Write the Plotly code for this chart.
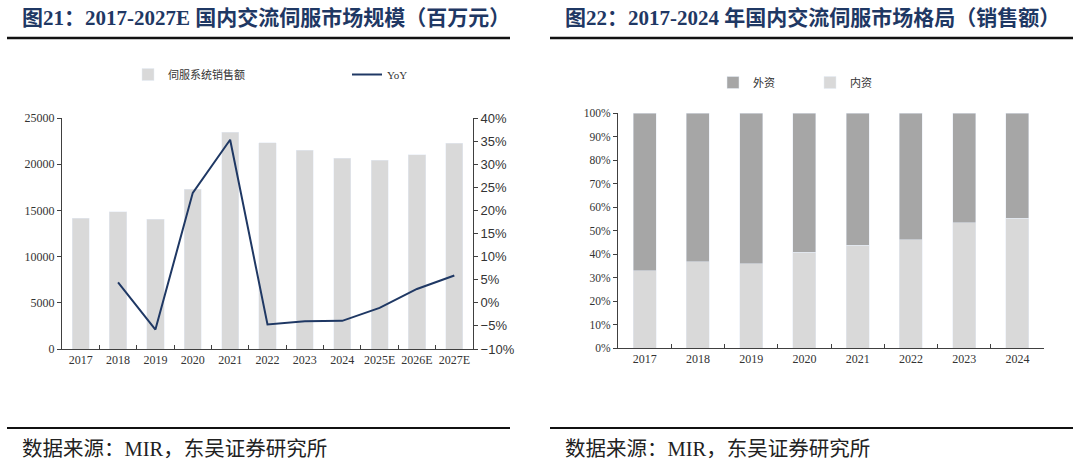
import plotly.graph_objects as go

# ---------------- data ----------------
years_left = ["2017", "2018", "2019", "2020", "2021", "2022", "2023", "2024", "2025E", "2026E", "2027E"]
sales = [14150, 14860, 14040, 17280, 23450, 22330, 21500, 20640, 20450, 21030, 22260]
yoy_years = ["2018", "2019", "2020", "2021", "2022", "2023", "2024", "2025E", "2026E", "2027E"]
yoy = [4.4, -5.8, 23.8, 35.3, -4.7, -4.0, -3.9, -1.1, 3.0, 5.9]

years_right = ["2017", "2018", "2019", "2020", "2021", "2022", "2023", "2024"]
domestic = [32.8, 36.6, 35.9, 40.7, 43.7, 46.0, 53.2, 55.3]
foreign = [67.2, 63.4, 64.1, 59.3, 56.3, 54.0, 46.8, 44.7]

title_left = "图21：2017-2027E 国内交流伺服市场规模（百万元）"
title_right = "图22：2017-2024 年国内交流伺服市场格局（销售额）"
source_text = "数据来源：MIR，东吴证券研究所"

W, H = 1080, 466
SERIF = "Liberation Serif, Noto Sans CJK SC"
SANS = "Liberation Sans, Arial, sans-serif"
NAVY = "#1F3864"
AX = "#404040"

def px(v):
    return v / W

def py(v):
    return 1 - v / H

fig = go.Figure()

# left chart
fig.add_trace(go.Bar(x=years_left, y=sales, name="伺服系统销售额", marker_color="#D9D9D9",
                     width=0.46, xaxis="x", yaxis="y", legend="legend"))
fig.add_trace(go.Scatter(x=yoy_years, y=yoy, name="YoY", mode="lines",
                         line=dict(color=NAVY, width=2), xaxis="x", yaxis="y2", legend="legend"))

# right chart
fig.add_trace(go.Bar(x=years_right, y=domestic, name="内资", marker_color="#D9D9D9",
                     width=0.43, xaxis="x3", yaxis="y3", legend="legend2", legendrank=2))
fig.add_trace(go.Bar(x=years_right, y=foreign, name="外资", marker_color="#A6A6A6",
                     width=0.43, xaxis="x3", yaxis="y3", legend="legend2", legendrank=1))

axis_common = dict(showgrid=False, zeroline=False, showline=True, linecolor=AX, linewidth=1,
                   tickcolor=AX, fixedrange=True, automargin=False)

fig.update_layout(
    width=W, height=H,
    margin=dict(l=0, r=0, t=0, b=0, autoexpand=False),
    paper_bgcolor="white", plot_bgcolor="white",
    barmode="stack",
    xaxis=dict(domain=[px(62), px(473)], anchor="y", type="category",
               ticks="inside", ticklen=4, tickson="boundaries", tickangle=0,
               tickfont=dict(family=SERIF, size=12, color="#333"), **axis_common),
    yaxis=dict(domain=[py(349), py(118)], anchor="x", range=[0, 25000], dtick=5000,
               tickformat="d", ticks="outside", ticklen=4,
               tickfont=dict(family=SERIF, size=12, color="#333"), **axis_common),
    yaxis2=dict(overlaying="y", side="right", anchor="x", range=[-10, 40], dtick=5,
                ticksuffix="%", ticks="outside", ticklen=4,
                tickfont=dict(family=SANS, size=13, color="#333"), **axis_common),
    xaxis3=dict(domain=[px(618), px(1044)], anchor="y3", type="category",
                ticks="inside", ticklen=4, tickson="boundaries", tickangle=0,
                tickfont=dict(family=SERIF, size=12, color="#333"), **axis_common),
    yaxis3=dict(domain=[py(348), py(113)], anchor="x3", range=[0, 100], dtick=10,
                ticksuffix="%", ticks="outside", ticklen=4,
                tickfont=dict(family=SERIF, size=11.5, color="#333"), **axis_common),
    legend=dict(orientation="h", x=px(128), y=py(60), xanchor="left", yanchor="top",
                entrywidth=174, font=dict(family=SERIF, size=11, color="#333"),
                bgcolor="rgba(0,0,0,0)", traceorder="normal"),
    legend2=dict(orientation="h", x=px(713), y=py(68), xanchor="left", yanchor="top",
                 entrywidth=52, font=dict(family=SERIF, size=11, color="#333"),
                 bgcolor="rgba(0,0,0,0)", traceorder="normal"),
    showlegend=True,
)

# titles, rules and source lines
annotations = [
    dict(text="<b>" + title_left + "</b>", x=px(20), y=py(18), xref="paper", yref="paper",
         xanchor="left", yanchor="middle", showarrow=False,
         font=dict(family=SERIF, size=21, color=NAVY)),
    dict(text="<b>" + title_right + "</b>", x=px(563), y=py(18), xref="paper", yref="paper",
         xanchor="left", yanchor="middle", showarrow=False,
         font=dict(family=SERIF, size=21, color=NAVY)),
    dict(text=source_text, x=px(20), y=py(449), xref="paper", yref="paper",
         xanchor="left", yanchor="middle", showarrow=False,
         font=dict(family=SERIF, size=20.5, color="#222")),
    dict(text=source_text, x=px(563), y=py(449), xref="paper", yref="paper",
         xanchor="left", yanchor="middle", showarrow=False,
         font=dict(family=SERIF, size=20.5, color="#222")),
]
shapes = []
for x0, x1 in [(7, 510), (550, 1073)]:
    shapes.append(dict(type="line", xref="paper", yref="paper", x0=px(x0), x1=px(x1),
                       y0=py(38), y1=py(38), line=dict(color="#111", width=2.5)))
    shapes.append(dict(type="line", xref="paper", yref="paper", x0=px(x0), x1=px(x1),
                       y0=py(428), y1=py(428), line=dict(color="#111", width=2)))
fig.update_layout(annotations=annotations, shapes=shapes)

fig.write_html("out.html", config={"displayModeBar": False},
               post_script="document.body.style.margin='0px';")
